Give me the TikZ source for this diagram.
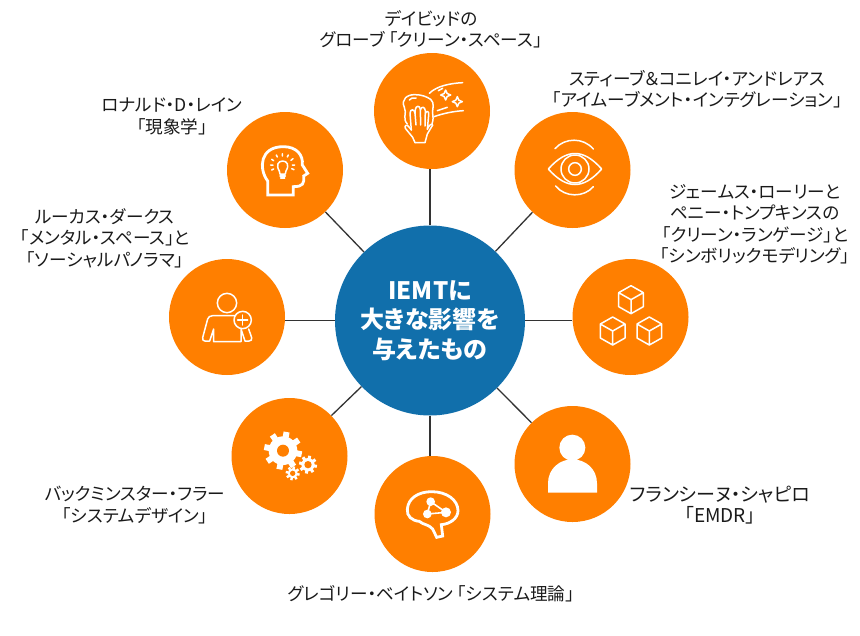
\documentclass[tikz,border=0pt]{standalone}
\usepackage{fontspec}
\setmainfont[RawFeature=+palt]{Noto Sans CJK JP}
\definecolor{orangec}{HTML}{FF7F00}
\definecolor{bluec}{HTML}{116FAB}
\definecolor{linec}{HTML}{333333}
\definecolor{labelc}{HTML}{1A1A1A}
\tikzset{
  spoke/.style={circle,fill=orangec,draw=none,minimum size=116pt,inner sep=0pt},
  hub/.style={circle,fill=bluec,draw=none,minimum size=190pt,inner sep=0pt,text=white,align=center,font=\fontsize{24}{29.5}\selectfont\bfseries},
  conn/.style={draw=linec,line width=1.3pt},
  lab/.style={inner sep=0pt,align=center,text=labelc,font=\fontsize{17.6}{21.5}\selectfont},
  ico/.style={draw=white,line width=1.5pt,line join=round,line cap=round},
  icoth/.style={draw=white,line width=2.8pt,line join=miter},
}
\newcommand{\cubeicon}[2]{%
  \draw[ico,shift={(#1,#2)}] (0,-42) -- (37,-21) -- (37,21) -- (0,42) -- (-37,21) -- (-37,-21) -- cycle
    (-37,-21) -- (0,0) -- (37,-21) (0,0) -- (0,42);}
\newcommand{\gearicon}[7]{% x y rIn rOut hole teeth toothwidth
  \begin{scope}[shift={(#1,#2)}]
    \fill[white] (0,0) circle[radius=#3];
    \foreach \k in {1,...,#6} {
      \draw[white,line width=#7pt] (360/#6*\k+11:#3-2) -- (360/#6*\k+11:#4);
    }
    \fill[orangec] (0,0) circle[radius=#5];
  \end{scope}}
\newcommand{\sparkle}[3]{%
  \draw[ico,shift={(#1,#2)}] (0,-#3) .. controls (2,-5) and (5,-2) .. (#3,0) .. controls (5,2) and (2,5) .. (0,#3) .. controls (-2,5) and (-5,2) .. (-#3,0) .. controls (-5,-2) and (-2,-5) .. cycle;}
\begin{document}
\begin{tikzpicture}[x=1pt,y=-1pt]
\useasboundingbox (0,0) rectangle (860,635);
\fill[white] (0,0) rectangle (860,635);

\node[hub] (hub) at (430,320.5) {\raisebox{-1pt}{\parbox{150pt}{\centering IEMTに\\大きな影響を\\与えたもの}}};
\node[spoke] (clean) at (432,111) {};
\node[spoke] (eye) at (572.5,170) {};
\node[spoke] (head) at (285,170) {};
\node[spoke] (plus) at (227,317) {};
\node[spoke] (cubes) at (630.5,317) {};
\node[spoke] (gears) at (289.5,456) {};
\node[spoke] (brain) at (432.5,514) {};
\node[spoke] (person) at (572.5,464) {};

\draw[conn] (hub.north) -- (hub.north |- clean.south);
\draw[conn] (hub) -- (eye);
\draw[conn] (hub) -- (head);
\draw[conn] (hub.west) -- (hub.west -| plus.east);
\draw[conn] (hub.east) -- (hub.east -| cubes.west);
\draw[conn] (hub) -- (gears);
\draw[conn] (hub.south) -- (hub.south |- brain.north);
\draw[conn] (hub) -- (person);

% cleaning icon
\begin{scope}[shift={(370,50)},scale=1/3]
  \draw[ico] (112,222) .. controls (96,205) and (112,190) .. (103,172)
     .. controls (92,148) and (112,133) .. (135,134)
     .. controls (155,134) and (170,140) .. (182,148)
     .. controls (196,160) and (186,178) .. (188,190)
     .. controls (190,200) and (190,210) .. (186,222);
  \draw[ico] (118,150) .. controls (122,144) and (130,142) .. (138,144);
  \draw[ico] (135,278) -- (165,278) -- (172,252) -- (188,225);
  \draw[ico] (135,278) -- (128,262) -- (106,235) .. controls (102,225) and (112,222) .. (118,232) -- (124,240);
  \draw[ico] (124,240) -- (120,190) .. controls (120,176) and (134,176) .. (135,190) -- (138,225);
  \draw[ico] (135,190) -- (136,178) .. controls (138,166) and (150,166) .. (151,178) -- (152,225);
  \draw[ico] (151,180) .. controls (154,168) and (165,170) .. (166,182) -- (165,228);
  \draw[ico] (166,190) .. controls (170,180) and (178,184) .. (176,195) -- (172,238) .. controls (176,228) and (184,218) .. (188,225);
  \draw[ico] (178,130) .. controls (200,108) and (240,100) .. (278,98);
  \draw[ico] (192,200) .. controls (220,190) and (250,184) .. (280,182);
  \draw[ico] (202,182) -- (232,172);
  \draw[ico] (205,122) -- (218,115);
  \sparkle{227}{135}{15}
  \sparkle{262}{155}{15}
\end{scope}

% eye icon
\begin{scope}[shift={(510,105)},scale=1/3]
  \draw[ico] (115,192) .. controls (170,130) and (220,130) .. (275,192)
    .. controls (220,254) and (170,254) .. (115,192) -- cycle;
  \draw[ico] (195,192) circle[radius=42];
  \draw[ico] (195,192) circle[radius=19];
  \draw[ico] (135,131) .. controls (165,97) and (220,97) .. (250,132);
  \draw[ico] (137,243) .. controls (165,278) and (222,278) .. (250,245);
\end{scope}

% head icon
\begin{scope}[shift={(225,105)},scale=1/3]
  \draw[icoth] (128,270) -- (128,228) .. controls (100,190) and (105,125) .. (175,125)
    .. controls (215,125) and (235,150) .. (232,180) -- (248,205) -- (236,213)
    .. controls (238,235) and (235,245) .. (205,245) -- (205,270) -- cycle;
  \draw[ico] (163,198) .. controls (152,180) and (160,168) .. (173,168)
    .. controls (186,168) and (194,180) .. (183,198) -- (181,207) -- (165,207) -- cycle;
  \draw[ico] (165,213) -- (181,213) (167,219) -- (179,219);
  \draw[ico] (172,146) -- (172,153) (154,150) -- (157,156) (190,150) -- (187,156)
    (140,163) -- (146,167) (204,161) -- (198,166) (137,180) -- (144,180) (209,180) -- (202,180)
    (140,195) -- (146,192) (207,194) -- (200,191);
\end{scope}

% person with plus icon
\begin{scope}[shift={(165,255)},scale=1/3]
  \draw[ico] (186,144) circle[radius=29];
  \draw[ico] (210,182) -- (143,182) .. controls (135,182) and (130,186) .. (128,192)
    -- (113,248) .. controls (112,255) and (115,258) .. (120,258) -- (134,258) -- (146,222)
    -- (146,260) -- (228,260) -- (228,222) -- (240,258) -- (252,258)
    .. controls (258,258) and (262,254) .. (260,248) -- (251,222);
  \draw[ico] (233,195) circle[radius=26];
  \draw[ico] (233,180) -- (233,210) (218,195) -- (248,195);
\end{scope}

% cubes icon
\begin{scope}[shift={(570,255)},scale=1/3]
  \cubeicon{183}{134}
  \cubeicon{128}{228}
  \cubeicon{238}{228}
\end{scope}

% gears icon
\begin{scope}[shift={(228,395)},scale=1/3]
  \gearicon{165}{167}{43}{57}{18}{8}{6}
  \gearicon{240}{209}{20}{27}{11}{8}{3}
  \gearicon{194}{235}{15}{21}{8}{8}{2.4}
\end{scope}

% brain icon
\begin{scope}[shift={(370,450)},scale=1/3]
  \draw[icoth] (200,262) -- (188,237) .. controls (175,222) and (160,225) .. (148,214)
    .. controls (125,212) and (110,198) .. (112,178)
    .. controls (114,145) and (145,125) .. (185,125)
    .. controls (230,125) and (264,150) .. (264,182)
    .. controls (264,205) and (240,222) .. (214,224)
    -- (218,258) -- cycle;
  \draw[white,line width=1.6pt] (182,155) -- (228,187) -- (172,192) -- cycle;
  \fill[white] (182,155) circle[radius=13];
  \fill[white] (228,187) circle[radius=15];
  \fill[white] (172,192) circle[radius=13];
\end{scope}

% person icon
\begin{scope}[shift={(510,400)},scale=1/3]
  \fill[white] (187,143) circle[radius=39];
  \fill[white] (114,278) -- (114,250) .. controls (114,205) and (150,178) .. (187,178)
     .. controls (225,178) and (261,205) .. (261,250) -- (261,278) -- cycle;
\end{scope}

\node[lab] (t1) at (431,29.5) {デイビッドの\\グローブ 「クリーン・スペース」};
\node[lab] (t2) at (697,89) {スティーブ＆コニレイ・アンドレアス\\「アイムーブメント・インテグレーション」};
\node[lab] (t3) at (172,116.5) {ロナルド・D・レイン\\「現象学」};
\node[lab] (t4) at (105,238) {ルーカス・ダークス\\「メンタル・スペース」と\\「ソーシャルパノラマ」};
\node[lab] (t5) at (755,224.5) {ジェームス・ローリーと\\ペニー・トンプキンスの\\「クリーン・ランゲージ」と\\「シンボリックモデリング」};
\node[lab] (t6) at (135,505) {バックミンスター・フラー\\「システムデザイン」};
\node[lab,font=\fontsize{19}{21.5}\selectfont] (t7) at (720,505) {フランシーヌ・シャピロ\\「EMDR」};
\node[lab] (t8) at (431,594) {グレゴリー・ベイトソン 「システム理論」};
\end{tikzpicture}
\end{document}
